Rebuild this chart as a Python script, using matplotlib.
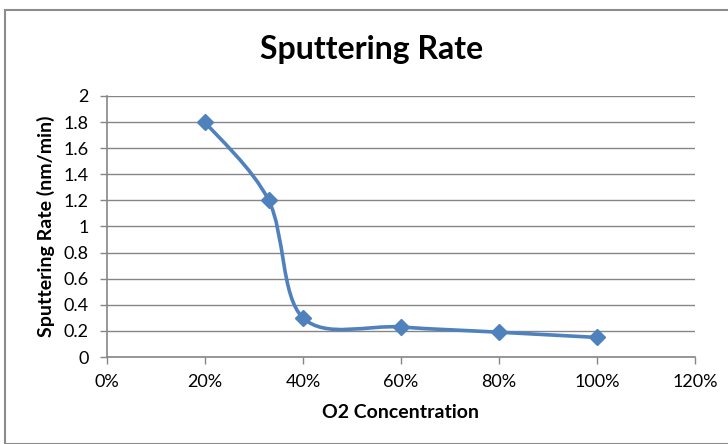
import matplotlib.pyplot as plt
from matplotlib.path import Path
from matplotlib.patches import PathPatch, Rectangle
from matplotlib.ticker import FuncFormatter

o2_conc = [20, 33, 40, 60, 80, 100]          # percent
rate = [1.8, 1.2, 0.3, 0.23, 0.19, 0.15]     # nm/min

x_ticks = [0, 20, 40, 60, 80, 100, 120]
y_ticks = [0, 0.2, 0.4, 0.6, 0.8, 1, 1.2, 1.4, 1.6, 1.8, 2]

blue = '#4F81BD'
gray = '#868686'
plt.rcParams['font.family'] = ['Lato', 'DejaVu Sans']


def smooth_path(xs, ys):
    # Catmull-Rom style bezier through the points (like a spreadsheet smoothed line)
    pts = list(zip(xs, ys))
    n = len(pts)
    verts = [pts[0]]
    codes = [Path.MOVETO]
    for i in range(n - 1):
        p0 = pts[i - 1] if i > 0 else pts[i]
        p1 = pts[i]
        p2 = pts[i + 1]
        p3 = pts[i + 2] if i + 2 < n else pts[i + 1]
        c1 = (p1[0] + (p2[0] - p0[0]) / 6, p1[1] + (p2[1] - p0[1]) / 6)
        c2 = (p2[0] - (p3[0] - p1[0]) / 6, p2[1] - (p3[1] - p1[1]) / 6)
        verts += [c1, c2, p2]
        codes += [Path.CURVE4] * 3
    return Path(verts, codes)


fig = plt.figure(figsize=(7.28, 4.44), dpi=100)
ax = fig.add_axes([107 / 728, 1 - 357 / 444, 588 / 728, 261 / 444])

# outer chart frame
fig.patches.append(Rectangle((5 / 728, 0), 2, 1 - 10 / 444, transform=fig.transFigure,
                             fill=False, edgecolor='#8c8c8c', linewidth=1.5))

ax.set_xlim(0, 120)
ax.set_ylim(0, 2)
ax.set_xticks(x_ticks)
ax.set_yticks(y_ticks)
ax.xaxis.set_major_formatter(FuncFormatter(lambda v, p: f'{v:.0f}%'))
ax.yaxis.set_major_formatter(FuncFormatter(lambda v, p: f'{v:g}'))
ax.grid(axis='y', color=gray, linewidth=1)
ax.set_axisbelow(True)

for s in ['top', 'right']:
    ax.spines[s].set_visible(False)
for s in ['left', 'bottom']:
    ax.spines[s].set_color(gray)
    ax.spines[s].set_linewidth(1.2)
ax.tick_params(color=gray, length=5, width=1, labelsize=13)
ax.tick_params(axis='x', pad=7)
ax.tick_params(axis='y', pad=8)

ax.add_patch(PathPatch(smooth_path(o2_conc, rate), fill=False, edgecolor=blue,
                       linewidth=2.6, capstyle='round', joinstyle='round', zorder=3))
ax.plot(o2_conc, rate, linestyle='none', marker='D', markersize=8.5,
        color=blue, zorder=4)

fig.text(372 / 728, 1 - 50 / 444, 'Sputtering Rate', fontsize=23, fontweight='bold',
         ha='center', va='center')
ax.set_xlabel('O2 Concentration', fontsize=14, fontweight='bold', labelpad=10)
ax.set_ylabel('Sputtering Rate (nm/min)', fontsize=14, fontweight='bold', labelpad=6)

fig.savefig('out.png', dpi=100)
